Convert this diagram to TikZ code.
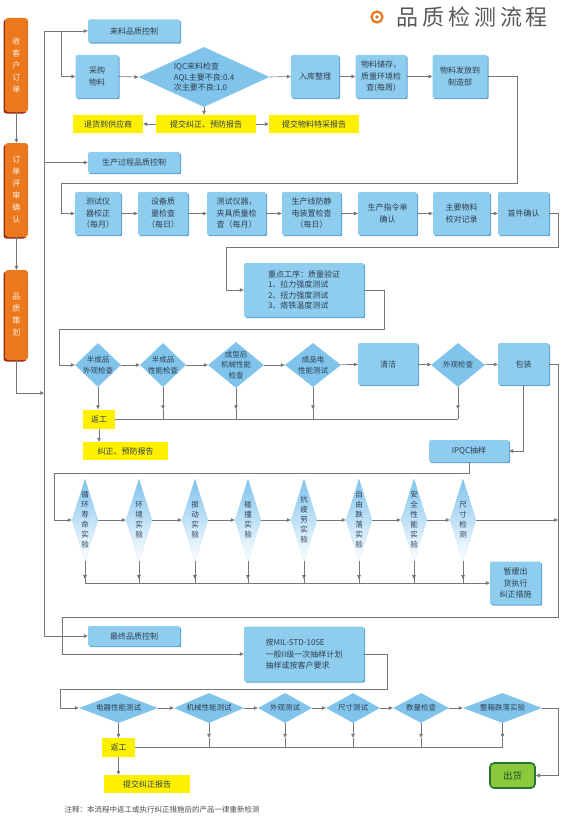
\documentclass[tikz,border=0pt]{standalone}
\usepackage{fontspec}
\setmainfont{Noto Sans CJK SC}
\usetikzlibrary{shapes.geometric, arrows.meta, shadows}

\definecolor{qblue}{RGB}{143,205,238}
\definecolor{qdia}{RGB}{128,196,236}
\definecolor{qshade}{RGB}{96,162,208}
\definecolor{qtext}{RGB}{45,62,80}
\definecolor{qline}{RGB}{118,118,118}
\definecolor{qyellow}{RGB}{255,240,0}
\definecolor{qorange}{RGB}{236,120,30}
\definecolor{qred}{RGB}{150,40,22}
\definecolor{qgreen}{RGB}{140,200,60}
\definecolor{qdkgreen}{RGB}{35,120,45}

\newcommand{\qfont}{\fontsize{8}{11.5}\selectfont}
\newcommand{\qdfont}{\fontsize{7.5}{10.5}\selectfont}

\tikzset{
  link/.style={draw=qline, line width=0.6pt},
  qbox/.style={rectangle, rounded corners=2pt, fill=qblue, text=qtext, font=\qfont, align=center, inner sep=1pt,
    drop shadow={shadow xshift=1.2pt, shadow yshift=-1.2pt, fill=qshade, opacity=1}},
  qdiam/.style={diamond, fill=qdia, inner sep=0pt},
  qtxt/.style={text=qtext, font=\qdfont, align=center, inner sep=0pt},
  qnote/.style={rectangle, fill=qyellow, text=qtext, font=\qfont, inner sep=1pt},
  qorder/.style={rectangle, rounded corners=3pt, fill=qorange, text=orange!12, font=\fontsize{8}{12}\selectfont,
    align=center, inner sep=0pt, minimum width=23,
    drop shadow={shadow xshift=-1.5pt, shadow yshift=-1.5pt, fill=qred, opacity=1}},
}

\begin{document}
\begin{tikzpicture}[x=1pt, y=-1pt, >={Triangle[length=4pt, width=3.5pt]}]
        % page
        \fill[white] (0,0) rectangle (563,816);
        \useasboundingbox (0,0) rectangle (563,816);

        % title
        \draw[qorange, line width=2.2pt] (377,17) circle[radius=5.5pt];
        \fill[qorange] (377,17) circle[radius=1.8pt];
        \node[anchor=west, text=black!65, inner sep=0pt,
              font={\fontsize{22}{22}\selectfont\addfontfeature{LetterSpace=18}}] (title) at (396,17) {品质检测流程};

        % order steps
        \node[qorder, minimum height=94] (ord1) at (16.5,65) {收\\客\\户\\订\\单};
        \node[qorder, minimum height=94] (ord2) at (16.5,190) {订\\单\\评\\审\\确\\认};
        \node[qorder, minimum height=90] (ord3) at (16.5,315) {品\\质\\策\\划};

        % section heads
        \node[qbox, minimum width=92, minimum height=23] (hdIn) at (134,31) {来料品质控制};
        \node[qbox, minimum width=92, minimum height=21] (hdPro) at (134,162.5) {生产过程品质控制};
        \node[qbox, minimum width=92, minimum height=20] (hdFin) at (134,636) {最终品质控制};

        % incoming material
        \node[qbox, minimum width=43, minimum height=43] (buy) at (97,76.5) {采购\\物料};
        \node[qdiam, minimum width=131, minimum height=60,
              label={[qtxt, align=left, font=\fontsize{8}{10.5}\selectfont]center:IQC来料检查\\AQL主要不良:0.4\\次主要不良:1.0}] (iqc) at (204,77) {};
        \node[qbox, minimum width=48, minimum height=43] (store) at (315,76.5) {入库整理};
        \node[qbox, minimum width=51, minimum height=43] (keep) at (381,76.5) {物料储存，\\质量环境检\\查(每周)};
        \node[qbox, minimum width=55, minimum height=43] (issue) at (460,76.5) {物料发放到\\制造部};

        \node[qnote, minimum width=70, minimum height=18] (ret) at (108,124) {退货到供应商};
        \node[qnote, minimum width=100, minimum height=18] (car1) at (206,124) {提交纠正、预防报告};
        \node[qnote, minimum width=90, minimum height=18] (spec) at (314,124) {提交物料特采报告};

        % production
        \node[qbox, minimum width=46, minimum height=43] (p1) at (98,213.5) {测试仪\\器校正\\（每月）};
        \node[qbox, minimum width=50, minimum height=43] (p2) at (163,213.5) {设备质\\量检查\\（每日）};
        \node[qbox, minimum width=59, minimum height=43] (p3) at (236.5,213.5) {测试仪器，\\夹具质量检\\查（每月）};
        \node[qbox, minimum width=59, minimum height=43] (p4) at (311.5,213.5) {生产线防静\\电装置检查\\（每日）};
        \node[qbox, minimum width=59, minimum height=43] (p5) at (387.5,213.5) {生产指令单\\确认};
        \node[qbox, minimum width=57, minimum height=43] (p6) at (461.5,213.5) {主要物料\\校对记录};
        \node[qbox, minimum width=51, minimum height=43] (p7) at (523.5,213.5) {首件确认};

        \node[qbox, minimum width=120, minimum height=54, align=left, font=\fontsize{8}{10.5}\selectfont] (key) at (304,290)
              {重点工序：质量验证\\1、拉力强度测试\\2、扭力强度测试\\3、烙铁温度测试};

        \node[qdiam, minimum width=46, minimum height=44, label={[qtxt]center:半成品\\外观检查}] (s1) at (98,365) {};
        \node[qdiam, minimum width=46, minimum height=44, label={[qtxt]center:半成品\\性能检查}] (s2) at (163,365) {};
        \node[qdiam, minimum width=56, minimum height=46, label={[qtxt]center:成型后\\机械性能\\检查}] (s3) at (236,365) {};
        \node[qdiam, minimum width=56, minimum height=44, label={[qtxt]center:成品电\\性能测试}] (s4) at (313,365) {};
        \node[qbox, minimum width=60, minimum height=42] (clean) at (388,364) {清洁};
        \node[qdiam, minimum width=54, minimum height=44, label={[qtxt]center:外观检查}] (s5) at (458,365) {};
        \node[qbox, minimum width=51, minimum height=42] (pack) at (523.5,364) {包装};

        \node[qnote, minimum width=32, minimum height=19] (rwk1) at (99,419) {返工};
        \node[qnote, minimum width=85, minimum height=18] (cor1) at (125.5,451) {纠正、预防报告};
        \node[qbox, minimum width=80, minimum height=22] (ipqc) at (469,451) {IPQC抽样};

        % sample tests
        \foreach \x/\n/\t in {85/t1/{循\\环\\寿\\命\\实\\验}, 139/t2/{环\\境\\实\\验}, 195/t3/{振\\动\\实\\验},
                              248/t4/{碰\\撞\\实\\验}, 304/t5/{抗\\疲\\劳\\实\\验}, 359/t6/{自\\由\\跌\\落\\实\\验},
                              414/t7/{安\\全\\性\\能\\实\\验}, 463/t8/{尺\\寸\\检\\测}} {
            \node[qdiam, minimum width=26, minimum height=82, top color=qdia, middle color=qdia, bottom color=white] (\n) at (\x,520) {};
            \node[qtxt, font=\fontsize{7.5}{10}\selectfont] (l\n) at (\n) {\t};
        }
        \node[qbox, minimum width=51, minimum height=43] (hold) at (515.5,583) {暂缓出\\货执行\\纠正措施};

        % final
        \node[qbox, minimum width=120, minimum height=55, align=left] (mil) at (304,654)
              {按MIL-STD-105E\\一般II级一次抽样计划\\抽样或按客户要求};

        \node[qdiam, minimum width=79, minimum height=30, label={[qtxt]center:电器性能测试}] (f1) at (118.5,708) {};
        \node[qdiam, minimum width=70, minimum height=30, label={[qtxt]center:机械性能测试}] (f2) at (209,708) {};
        \node[qdiam, minimum width=54, minimum height=30, label={[qtxt]center:外观测试}] (f3) at (285,708) {};
        \node[qdiam, minimum width=54, minimum height=30, label={[qtxt]center:尺寸测试}] (f4) at (353,708) {};
        \node[qdiam, minimum width=56, minimum height=30, label={[qtxt]center:数量检查}] (f5) at (421,708) {};
        \node[qdiam, minimum width=79, minimum height=30, label={[qtxt]center:整箱跌落实验}] (f6) at (502.5,708) {};

        \node[qnote, minimum width=33, minimum height=19] (rwk2) at (118.5,747.5) {返工};
        \node[qnote, minimum width=86, minimum height=18] (cor2) at (147,784) {提交纠正报告};
        \node[rectangle, rounded corners=4pt, fill=qgreen, draw=qdkgreen, line width=1.6pt, minimum width=45, minimum height=25,
              text=qdkgreen!70!black, font=\fontsize{9.5}{10}\selectfont] (ship) at (512.5,775.5) {出货};

        \node[anchor=west, text=black!70, font=\fontsize{7.5}{9}\selectfont] (note) at (61,810)
              {注释：本流程中返工或执行纠正措施后的产品一律重新检测};

        % trunk
        \coordinate (trTop) at (44,31);
        \coordinate (trMid) at (44,162.5);
        \coordinate (trJoin) at (44,393);
        \coordinate (trBot) at (44,636);
        \coordinate (brIn) at (61,31);
        \coordinate (trR) at (558,520);

        \draw[link] (trTop) -- (trBot);
        \draw[link,->] (trTop) -- (hdIn.west);
        \draw[link,->] (brIn) |- (buy.west);
        \draw[link,->] (trMid) -- (hdPro.west);
        \draw[link,->] (trBot) -- (hdFin.west);
        \draw[link,->] (ord1) -- (ord2);
        \draw[link,->] (ord2) -- (ord3);
        \draw[link,->] (ord3.south) |- (trJoin);

        % incoming links
        \foreach \a/\b in {buy/iqc, iqc/store, store/keep, keep/issue}
            \draw[link,->] (\a.east) -- (\b.west);
        \draw[link,->] (iqc.south) -- (iqc.south |- car1.north);
        \draw[link,->] (car1) -- (ret);
        \draw[link,->] (car1) -- (spec);
        \draw[link,->] (issue.east) -| (517,183) -| (61,213.5) -- (p1.west);

        % production links
        \foreach \a/\b in {p1/p2, p2/p3, p3/p4, p4/p5, p5/p6, p6/p7}
            \draw[link,->] (\a) -- (\b);
        \draw[link,->] (p7.east) -| (558,247) -| (226,290) -- (key.west);
        \draw[link,->] (key.east) -| (384,329) -| (59,365) -- (s1.west);

        \foreach \a/\b in {s1/s2, s2/s3, s3/s4, s4/clean, clean/s5, s5/pack}
            \draw[link,->] (\a) -- (\b);
        \draw[link,->] (s1.south) -- (s1.south |- rwk1.north);
        \foreach \d in {s2, s3, s4, s5} {
            \draw[link,->] (\d.south) -- (\d.south |- rwk1.north);
            \draw[link] (\d.south |- rwk1.north) -- (\d.south |- rwk1.east);
        }
        \draw[link] (rwk1.east) -- (s5.south |- rwk1.east);
        \draw[link,->] (rwk1.south) -- (rwk1.south |- cor1.north);
        \draw[link,->] (pack.south) |- (ipqc.east);
        \draw[link,->] (pack.east) -| (558,617) -| (62,654) -- (mil.west);
        \draw[link,->] (ipqc.south) |- (54,473) |- (t1.west);

        % sample links
        \foreach \a/\b in {t1/t2, t2/t3, t3/t4, t4/t5, t5/t6, t6/t7, t7/t8}
            \draw[link,->] (\a) -- (\b);
        \draw[link,->] (t8.east) -- (trR);
        \foreach \d in {t1, t2, t3, t4, t5, t6, t7, t8} {
            \draw[link] (\d.south) -- (\d.south |- hold.west);
            \draw[link,->] (\d.south) -- ++(0,18);
        }
        \draw[link,->] (t1.south |- hold.west) -- (hold.west);

        % final links
        \draw[link,->] (mil.east) -| (387,689) -| (60,708) -- (f1.west);
        \foreach \a/\b in {f1/f2, f2/f3, f3/f4, f4/f5, f5/f6}
            \draw[link,->] (\a) -- (\b);
        \draw[link,->] (f1.south) -- (rwk2.north);
        \foreach \d in {f2, f3, f4, f5, f6} {
            \draw[link,->] (\d.south) -- (\d.south |- rwk2.north);
            \draw[link] (\d.south |- rwk2.north) -- (\d.south |- rwk2.east);
        }
        \draw[link] (rwk2.east) -- (f6.south |- rwk2.east);
        \draw[link,->] (rwk2.south) -- (rwk2.south |- cor2.north);
        \draw[link,->] (f6.east) -| (558,775.5) -- (ship.east);
\end{tikzpicture}
\end{document}
